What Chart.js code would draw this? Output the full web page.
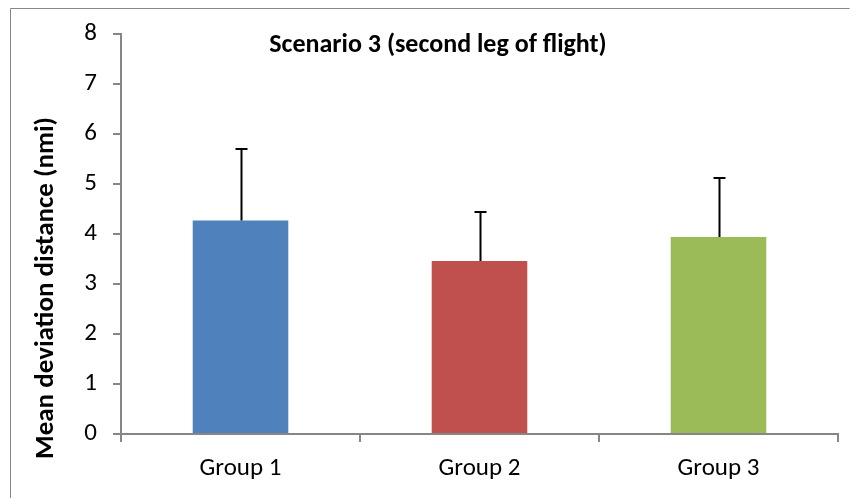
<!DOCTYPE html>
<html>
<head>
<meta charset="utf-8">
<script src="https://cdn.jsdelivr.net/npm/chart.js@4/dist/chart.umd.min.js"></script>
<style>
    html, body { margin: 0; padding: 0; background: #fff; }
    #wrap { position: relative; width: 856px; height: 498px; }
</style>
</head>
<body>
<div id="wrap"><canvas id="chart" width="856" height="498"></canvas></div>
<script>
const categories = ["Group 1", "Group 2", "Group 3"];
const meanValues = [4.27, 3.46, 3.94];
const errorTops = [5.71, 4.45, 5.11];
const barColors = ["#4F81BD", "#C0504D", "#9BBB59"];
const yTicks = [0, 1, 2, 3, 4, 5, 6, 7, 8];

const chartTitle = "Scenario 3 (second leg of flight)";
const yTitle = "Mean deviation distance (nmi)";
const FONT = "Carlito, Lato, 'Open Sans', sans-serif";
const AXIS_GREY = "#868686";

// error bars (upper only) plus the frame and the two titles
const decorPlugin = {
    id: "decor",
    afterDatasetsDraw(chart) {
        const ctx = chart.ctx;
        const x = chart.scales.x;
        const y = chart.scales.y;
        ctx.save();
        ctx.strokeStyle = "#000";
        ctx.lineWidth = 2;
        errorTops.forEach((top, i) => {
            const cx = Math.round(x.getPixelForValue(i)) + 0.5;
            const y0 = y.getPixelForValue(meanValues[i]);
            const y1 = Math.round(y.getPixelForValue(top));
            ctx.beginPath();
            ctx.moveTo(cx, y0);
            ctx.lineTo(cx, y1);
            ctx.moveTo(cx - 6, y1);
            ctx.lineTo(cx + 6, y1);
            ctx.stroke();
        });
        ctx.restore();
    },
    afterDraw(chart) {
        const ctx = chart.ctx;
        ctx.save();
        // outer frame
        ctx.strokeStyle = AXIS_GREY;
        ctx.lineWidth = 1;
        ctx.beginPath();
        ctx.moveTo(10.5, 498);
        ctx.lineTo(10.5, 8.5);
        ctx.lineTo(849.5, 8.5);
        ctx.stroke();

        ctx.fillStyle = "#000";
        ctx.font = "bold 26px " + FONT;
        ctx.textAlign = "center";
        ctx.textBaseline = "middle";
        ctx.fillText(chartTitle, 438, 45);

        ctx.translate(46, 288);
        ctx.rotate(-Math.PI / 2);
        ctx.font = "bold 27px " + FONT;
        ctx.fillText(yTitle, 0, 0);
        ctx.restore();
    }
};

new Chart(document.getElementById("chart"), {
    type: "bar",
    data: {
        labels: categories,
        datasets: [{
            data: meanValues,
            backgroundColor: barColors,
            borderWidth: 0,
            categoryPercentage: 1,
            barPercentage: 0.4,
        }]
    },
    options: {
        responsive: false,
        animation: false,
        events: [],
        layout: { padding: { left: 0, top: 34, right: 18, bottom: 0 } },
        plugins: {
            legend: { display: false },
            tooltip: { enabled: false },
        },
        scales: {
            x: {
                offset: true,
                afterFit: (scale) => { scale.height = 64; },
                border: { color: AXIS_GREY, width: 2 },
                grid: {
                    offset: true,
                    drawOnChartArea: false,
                    tickLength: 8,
                    color: AXIS_GREY,
                    lineWidth: 2,
                },
                ticks: {
                    color: "#000",
                    padding: 12,
                    font: { family: FONT, size: 25 },
                },
            },
            y: {
                min: 0,
                max: 8,
                afterFit: (scale) => { scale.width = 121; },
                afterBuildTicks: (scale) => {
                    scale.ticks = yTicks.map(v => ({ value: v }));
                },
                border: { color: AXIS_GREY, width: 2 },
                grid: {
                    drawOnChartArea: false,
                    tickLength: 8,
                    color: AXIS_GREY,
                    lineWidth: 2,
                },
                ticks: {
                    color: "#000",
                    padding: 16,
                    font: { family: FONT, size: 25 },
                },
            },
        },
    },
    plugins: [decorPlugin],
});
</script>
</body>
</html>
